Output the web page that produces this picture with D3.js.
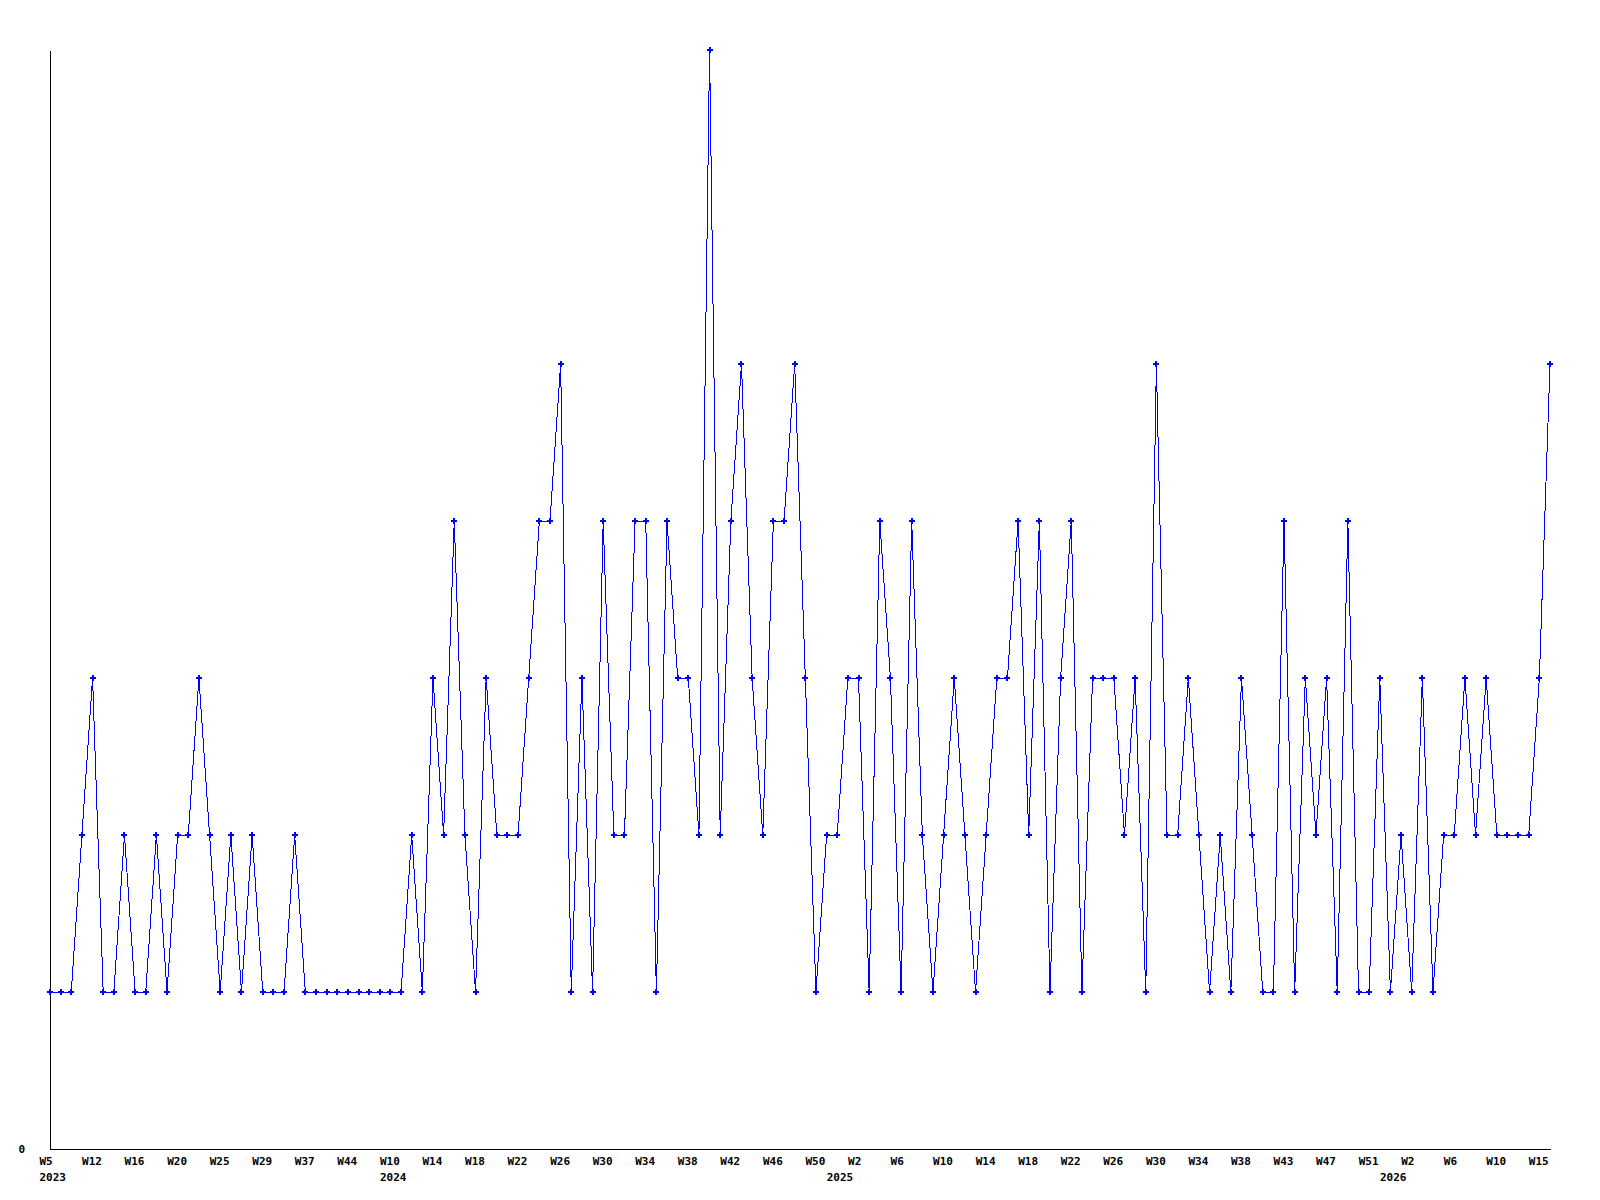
<!DOCTYPE html>
<html lang="en">
<head>
    <meta charset="UTF-8">
    <title>Weekly count</title>
    <script src="https://d3js.org/d3.v7.min.js"></script>
<style>
    body { margin: 0; background: #fff; }
    .axis text {
      font-family: "DejaVu Sans Mono", monospace;
      font-weight: bold;
      font-size: 11px;
      fill: #000;
    }
    .axis path { stroke: #000; stroke-width: 1px; shape-rendering: crispEdges; }
    .series { fill: none; stroke: #0000ff; stroke-width: 1px; shape-rendering: crispEdges; }
    .marker { fill: #0000ff; shape-rendering: crispEdges; }
</style>
</head>
<body>
    <svg id="canvas" width="1600" height="1200"></svg>

    <script>
        // one value per week that has data
        var values = [
            1, 1, 1, 2, 3, 1, 1, 2, 1, 1, 2, 1, 2, 2, 3, 2, 1, 2, 1, 2,
            1, 1, 1, 2, 1, 1, 1, 1, 1, 1, 1, 1, 1, 1, 2, 1, 3, 2, 4, 2,
            1, 3, 2, 2, 2, 3, 4, 4, 5, 1, 3, 1, 4, 2, 2, 4, 4, 1, 4, 3,
            3, 2, 7, 2, 4, 5, 3, 2, 4, 4, 5, 3, 1, 2, 2, 3, 3, 1, 4, 3,
            1, 4, 2, 1, 2, 3, 2, 1, 2, 3, 3, 4, 2, 4, 1, 3, 4, 1, 3, 3,
            3, 2, 3, 1, 5, 2, 2, 3, 2, 1, 2, 1, 3, 2, 1, 1, 4, 1, 3, 2,
            3, 1, 4, 1, 1, 3, 1, 2, 1, 3, 1, 2, 2, 3, 2, 3, 2, 2, 2, 2,
            3, 5
        ];

        // week label on every 4th point
        var tickEvery = 4;
        var tickLabels = [
            "W5", "W12", "W16", "W20", "W25", "W29", "W37", "W44",
            "W10", "W14", "W18", "W22", "W26", "W30", "W34", "W38", "W42", "W46", "W50",
            "W2", "W6", "W10", "W14", "W18", "W22", "W26", "W30", "W34", "W38", "W43", "W47", "W51",
            "W2", "W6", "W10", "W15"
        ];

        var yearLabels = ["2023", "2024", "2025", "2026"];
        var yearStart = [0, 32, 74, 126];

        var svg = d3.select("svg");
        var plotLeft = 50, plotRight = 1550, plotTop = 50, plotBottom = 1149;

        var x = d3.scaleLinear()
            .domain([0, values.length - 1])
            .range([plotLeft, plotRight]);

        var y = d3.scaleLinear()
            .domain([0, d3.max(values)])
            .range([plotBottom, plotTop]);

        var tickIdx = tickLabels.map(function(d, i){ return i * tickEvery; });

        var xAxis = svg.append("g")
            .attr("class", "axis")
            .attr("transform", "translate(0," + plotBottom + ")")
            .call(d3.axisBottom(x)
                .tickValues(tickIdx)
                .tickFormat(function(d){ return tickLabels[d / tickEvery]; })
                .tickSize(0)
                .tickSizeOuter(0)
                .tickPadding(8));
        xAxis.selectAll(".tick text")
            .attr("text-anchor", "start")
            .attr("dx", -11);

        var yearAxis = svg.append("g")
            .attr("class", "axis")
            .attr("transform", "translate(0," + (plotBottom + 16) + ")")
            .call(d3.axisBottom(x)
                .tickValues(yearStart)
                .tickFormat(function(d){ return yearLabels[yearStart.indexOf(d)]; })
                .tickSize(0)
                .tickPadding(8));
        yearAxis.select(".domain").remove();
        yearAxis.selectAll(".tick text")
            .attr("text-anchor", "start")
            .attr("dx", -11);

        svg.append("g")
            .attr("class", "axis")
            .attr("transform", "translate(" + plotLeft + ",0)")
            .call(d3.axisLeft(y)
                .tickValues([0])
                .tickFormat(d3.format("d"))
                .tickSize(0)
                .tickSizeOuter(0)
                .tickPadding(25));

        var line = d3.line()
            .x(function(d, i){ return x(i); })
            .y(function(d){ return y(d); });

        svg.append("path")
            .datum(values)
            .attr("class", "series")
            .attr("d", line);

        // small filled cross marker on every point
        svg.selectAll(".marker")
            .data(values)
            .enter()
            .append("path")
            .attr("class", "marker")
            .attr("transform", function(d, i){ return "translate(" + x(i) + "," + y(d) + ")"; })
            .attr("d", "M-1,-3H1V-1H3V1H1V3H-1V1H-3V-1H-1Z");
    </script>
</body>
</html>
